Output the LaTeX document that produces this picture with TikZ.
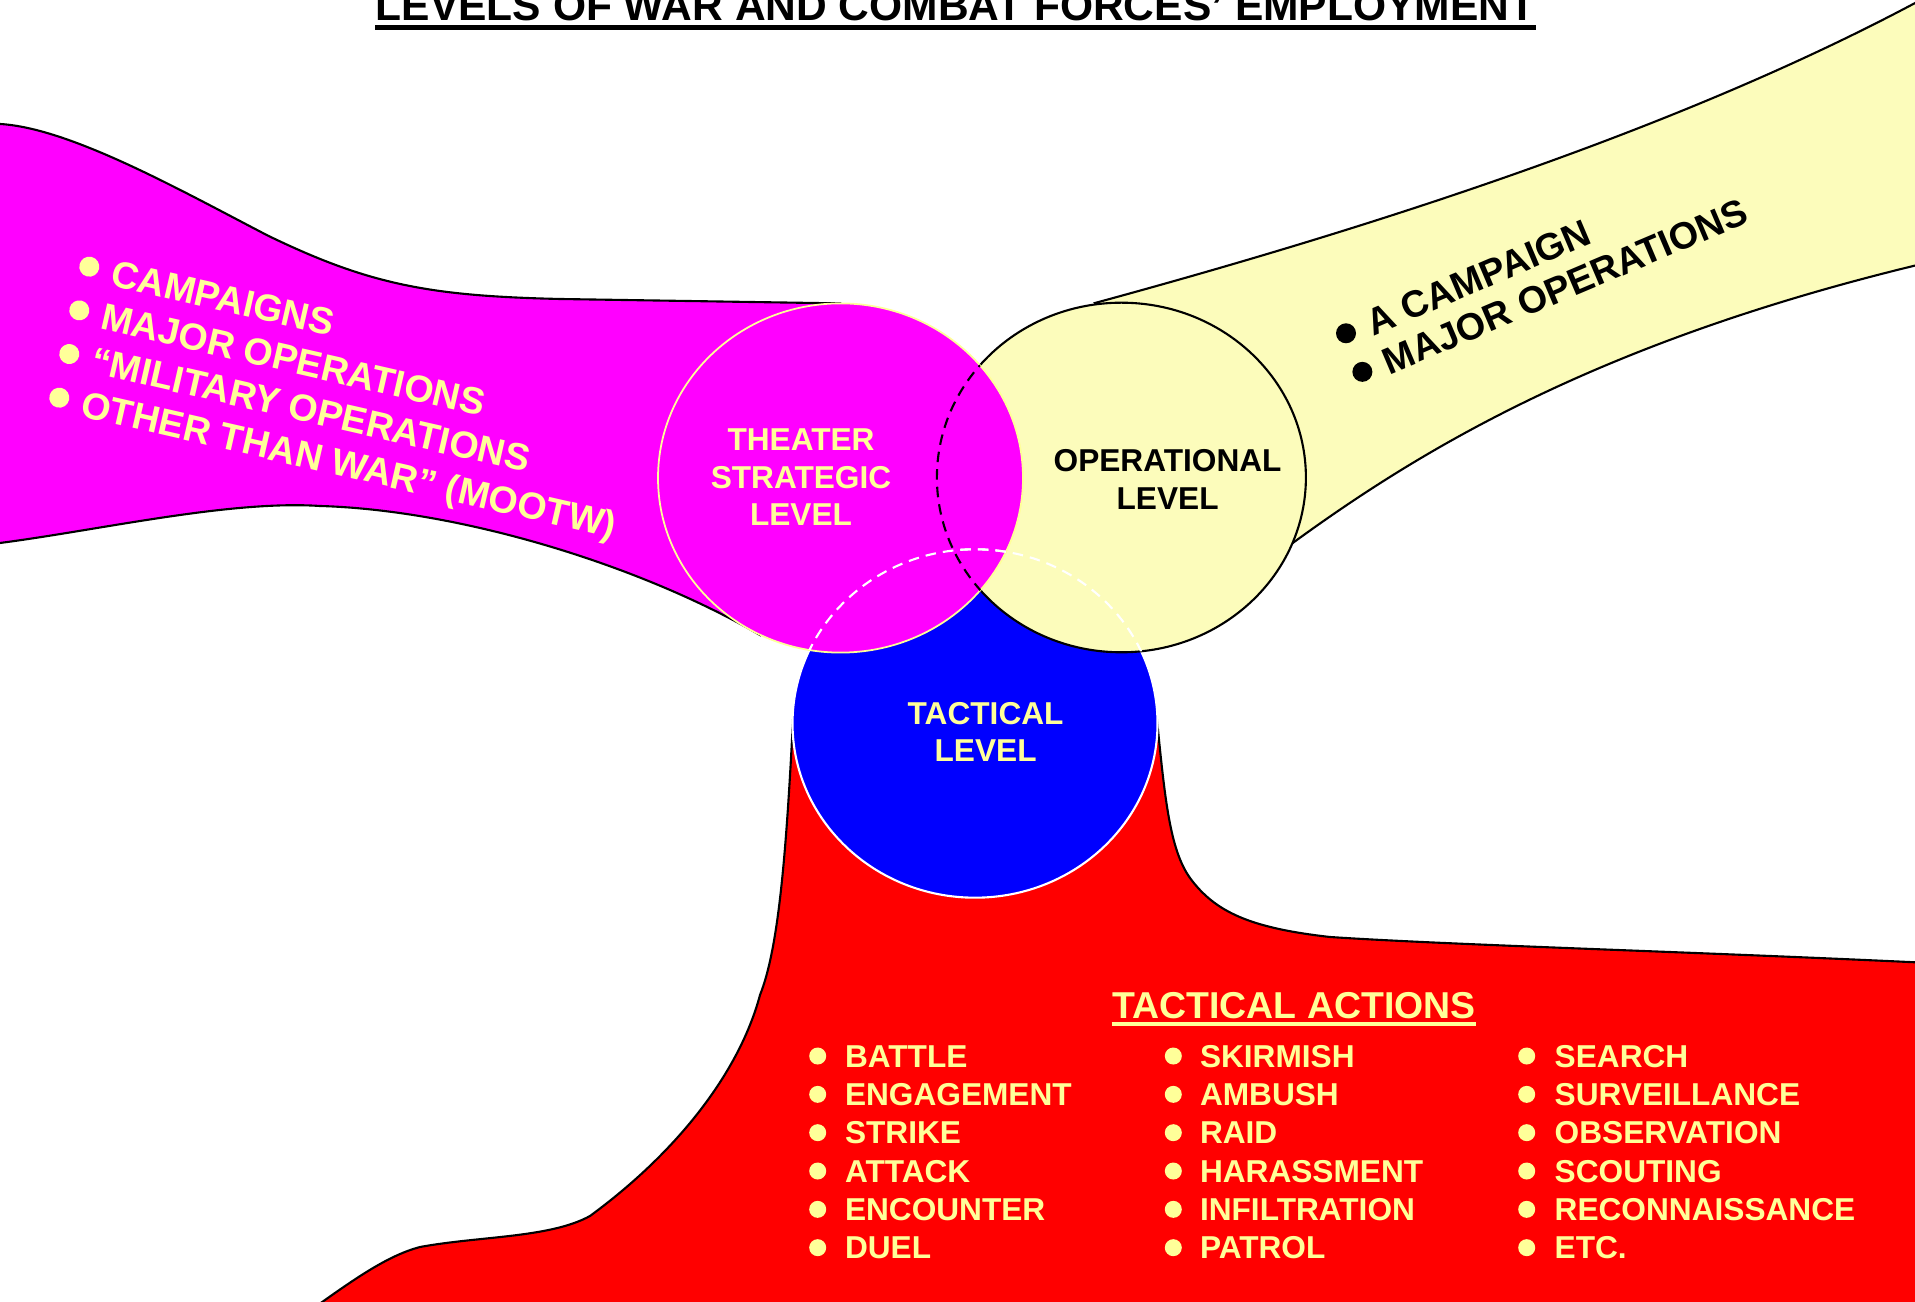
\documentclass[tikz,border=0pt]{standalone}
\usepackage{fontspec}
\setmainfont{Liberation Sans}
\usetikzlibrary{calc}
\definecolor{magband}{RGB}{255,0,255}
\definecolor{opyel}{RGB}{252,252,187}
\definecolor{paleyel}{RGB}{255,255,153}
\definecolor{tacblue}{RGB}{0,0,255}
\definecolor{tacred}{RGB}{255,0,0}

\begin{document}
\begin{tikzpicture}[x=0.1mm,y=-0.1mm,
  lvltext/.style={font=\fontsize{9}{10.7}\selectfont\bfseries,align=center,inner sep=0pt},
  actitem/.style={font=\fontsize{9}{10}\selectfont\bfseries,text=paleyel,anchor=base west,inner sep=0pt},
  bandtext/.style={font=\fontsize{10.7}{12}\selectfont\bfseries,anchor=base west,inner sep=0pt,transform shape},
  blackline/.style={draw=black,line width=0.6pt},
  rim/.style={line width=0.6pt,dash pattern=on 3pt off 2pt}]
\useasboundingbox (0,0) rectangle (1915,1302);
\clip (0,0) rectangle (1915,1302);
\fill[white] (0,0) rectangle (1915,1302);

\coordinate (cTh) at (840.5,478);
\coordinate (cOp) at (1121.4,477.5);
\coordinate (cTa) at (975,723.5);

% tactical band and circle
\filldraw[fill=tacred,blackline] (793,720) .. controls (786,860) and (778,950) .. (760,995)
  .. controls (740,1070) and (680,1150) .. (590,1216) .. controls (550,1238) and (480,1236) .. (420,1247)
  .. controls (390,1255) and (360,1275) .. (318,1305) -- (318,1320) -- (1940,1320) -- (1940,963) -- (1930,963)
  .. controls (1700,952) and (1450,945) .. (1330,937) .. controls (1250,928) and (1215,912) .. (1190,878)
  .. controls (1170,850) and (1165,800) .. (1157,720) -- cycle;
\filldraw[fill=tacblue,draw=white,line width=0.6pt] (cTa) ellipse [x radius=182.5,y radius=174.2];

% operational band and circle
\filldraw[fill=opyel,blackline] (1095,303) .. controls (1400,220) and (1700,120) .. (1930,-5) -- (1940,-5)
  -- (1940,262) -- (1930,262) .. controls (1600,340) and (1420,450) .. (1290,545) -- cycle;
\filldraw[fill=opyel,blackline] (cOp) ellipse [x radius=184.5,y radius=174.8];

% theater band and circle
\filldraw[fill=magband,blackline] (-10,124) -- (0,124) .. controls (70,128) and (180,190) .. (268,235.7)
  .. controls (370,285) and (430,296) .. (560,299) -- (840,303.4) -- (760,635)
  .. controls (640,565) and (460,510) .. (320,506) .. controls (230,500) and (100,530) .. (0,543)
  -- (-10,544) -- cycle;
\filldraw[fill=magband,draw=paleyel,line width=0.5pt] (cTh) ellipse [x radius=182.5,y radius=174.6];

% hidden rims
\begin{scope}
  \clip (cTh) ellipse [x radius=182.5,y radius=174.6];
  \draw[rim,black] (cOp) ellipse [x radius=184.5,y radius=174.8];
\end{scope}
\foreach \c/\rx/\ry in {cTh/182.5/174.6,cOp/184.5/174.8}{
  \begin{scope}
    \clip (\c) ellipse [x radius=\rx,y radius=\ry];
    \draw[rim,white] (cTa) ellipse [x radius=182.5,y radius=174.2];
  \end{scope}
}

% title
\node[font=\fontsize{12.1}{14}\selectfont\bfseries,anchor=base,inner sep=0pt] (title) at (955.5,20.7)
  {LEVELS OF WAR AND COMBAT FORCES’ EMPLOYMENT};
\draw[line width=0.5mm] ([yshift=-0.68mm]title.base west) -- ([yshift=-0.68mm]title.base east);

% level labels
\node[lvltext,text=paleyel] (thlvl) at (801,477.5) {THEATER\\STRATEGIC\\LEVEL};
\node[lvltext] (oplvl) at (1167.6,479.3) {OPERATIONAL\\LEVEL};
\node[lvltext,text=paleyel] (talvl) at (985.6,732.1) {TACTICAL\\LEVEL};

% theater band text
\begin{scope}[shift={(89.3,266.7)},rotate=-12.9]
  \foreach \k in {0,...,3} \fill[paleyel] (0,44.8*\k) circle [radius=10];
  \node[bandtext,text=paleyel] (th0) at (23,13.5) {CAMPAIGNS};
  \node[bandtext,text=paleyel] (th1) at (23,58.3) {MAJOR OPERATIONS};
  \node[bandtext,text=paleyel] (th2) at (23,103.1) {“MILITARY OPERATIONS};
  \node[bandtext,text=paleyel] (th3) at (23,147.9) {OTHER THAN WAR” (MOOTW)};
\end{scope}

% operational band text
\begin{scope}[shift={(1346,333.3)},rotate=23]
  \foreach \k in {0,1} \fill[black] (0,41.9*\k) circle [radius=10];
  \node[bandtext] (op0) at (23,13.5) {A CAMPAIGN};
  \node[bandtext] (op1) at (23,55.4) {MAJOR OPERATIONS};
\end{scope}

% tactical actions
\node[font=\fontsize{10.65}{12}\selectfont\bfseries,text=paleyel,anchor=base west,inner sep=0pt] (tacact)
  at (1111.7,1018.3) {TACTICAL ACTIONS};
\draw[paleyel,line width=0.4mm] ([yshift=-0.54mm]tacact.base west) -- ([yshift=-0.54mm]tacact.base east);
\foreach \a [count=\i] in {BATTLE,ENGAGEMENT,STRIKE,ATTACK,ENCOUNTER,DUEL}{
  \fill[paleyel] (817.7,1017.7+38.33*\i) circle [radius=8.5];
  \node[actitem] (ca\i) at (844.3,1029+38.33*\i) {\a};
}
\foreach \a [count=\i] in {SKIRMISH,AMBUSH,RAID,HARASSMENT,INFILTRATION,PATROL}{
  \fill[paleyel] (1173.3,1017.7+38.33*\i) circle [radius=8.5];
  \node[actitem] (cb\i) at (1199.3,1029+38.33*\i) {\a};
}
\foreach \a [count=\i] in {SEARCH,SURVEILLANCE,OBSERVATION,SCOUTING,RECONNAISSANCE,ETC.}{
  \fill[paleyel] (1526.7,1017.7+38.33*\i) circle [radius=8.5];
  \node[actitem] (cc\i) at (1554,1029+38.33*\i) {\a};
}
\end{tikzpicture}
\end{document}
